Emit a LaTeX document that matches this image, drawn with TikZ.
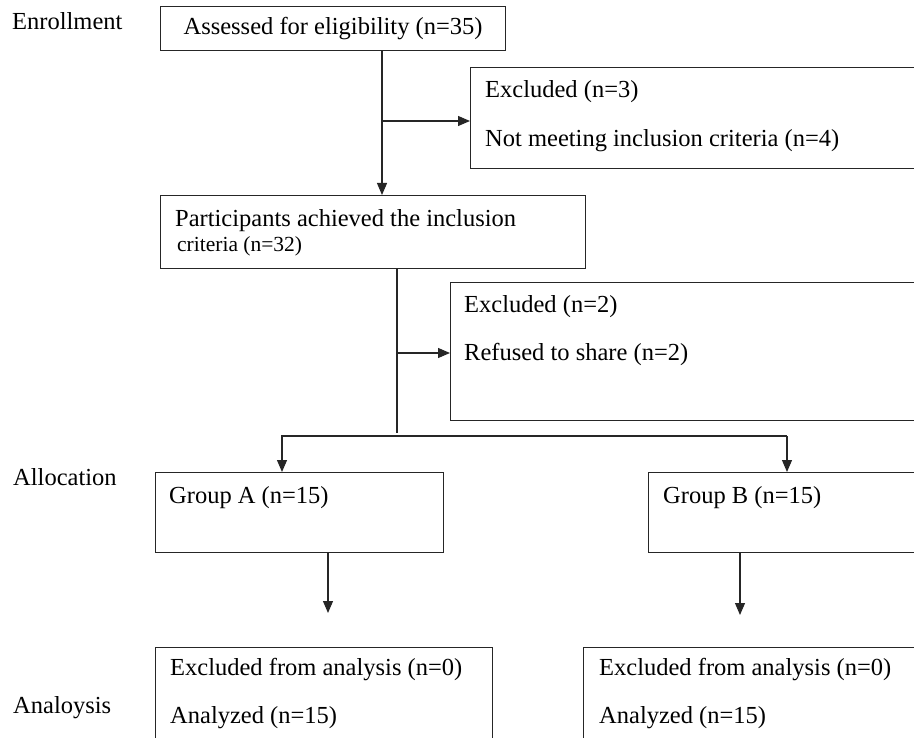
\documentclass[tikz,border=0pt]{standalone}
\usepackage{fontspec}
\setmainfont{Liberation Serif}
\usetikzlibrary{positioning,arrows.meta}

\begin{document}
\begin{tikzpicture}[
		x=1pt, y=-1pt,
		box/.style={rectangle, draw=black!85, line width=1.1pt, anchor=north west, inner sep=0pt},
		txt/.style={anchor=base west, inner sep=0pt, text=black, font=\fontsize{24.5}{29}\selectfont},
		small/.style={txt, font=\fontsize{21.5}{26}\selectfont},
		link/.style={draw=black!85, line width=1.1pt},
		flow/.style={link, -{Triangle[length=12pt,width=10pt]}}
]
\useasboundingbox (0,0) rectangle (914,738);
\clip (0,0) rectangle (914,738);

% stage labels
\node [txt] (Enroll) at (12,30) {Enrollment};
\node [txt] (Alloc) at (13,485) {Allocation};
\node [txt] (Anal) at (13,713) {Analoysis};

% boxes
\node [box, minimum width=345pt, minimum height=44pt, font=\fontsize{24.5}{29}\selectfont] (Assess) at (160,6) {Assessed for eligibility (n=35)};
\node [box, minimum width=600pt, minimum height=101pt] (Excl1) at (470,67) {};
\node [box, minimum width=425pt, minimum height=73pt] (Incl) at (160,195) {};
\node [box, minimum width=600pt, minimum height=138pt] (Excl2) at (450,282) {};
\node [box, minimum width=288pt, minimum height=80pt] (GrpA) at (155,472) {};
\node [box, minimum width=400pt, minimum height=80pt] (GrpB) at (648,472) {};
\node [box, minimum width=337pt, minimum height=150pt] (AnA) at (155,647) {};
\node [box, minimum width=400pt, minimum height=150pt] (AnB) at (583,647) {};

% box texts
\node [txt] (Excl1a) at (485,98) {Excluded (n=3)};
\node [txt] (Excl1b) at (485,147) {Not meeting inclusion criteria (n=4)};
\node [txt] (Incla) at (175,227) {Participants achieved the inclusion};
\node [small] (Inclb) at (177,252) {criteria (n=32)};
\node [txt] (Excl2a) at (464,313) {Excluded (n=2)};
\node [txt] (Excl2b) at (464,360) {Refused to share (n=2)};
\node [txt] (GrpAt) at (169,503) {Group A (n=15)};
\node [txt] (GrpBt) at (663,503) {Group B (n=15)};
\node [txt] (AnAa) at (170,675) {Excluded from analysis (n=0)};
\node [txt] (AnAb) at (170,723) {Analyzed (n=15)};
\node [txt] (AnBa) at (599,675) {Excluded from analysis (n=0)};
\node [txt] (AnBb) at (599,723) {Analyzed (n=15)};

% connectors
\coordinate (J1) at (382,121);
\draw [flow] (J1 |- Assess.south) -- (J1 |- Incl.north);
\draw [flow] (J1) -- (J1 -| Excl1.west);

\coordinate (J2) at (397,353);
\coordinate (J3) at (397,433);
\draw [link] (J2 |- Incl.south) -- (J3);
\draw [flow] (J2) -- (J2 -| Excl2.west);

\coordinate (SplitA) at (282,436);
\coordinate (SplitB) at (787,436);
\draw [flow] (SplitB) -- (SplitA) -- (SplitA |- GrpA.north);
\draw [flow] (SplitB) -- (SplitB |- GrpB.north);

\coordinate (EndA) at (328,613);
\coordinate (EndB) at (740,615);
\draw [flow] (EndA |- GrpA.south) -- (EndA);
\draw [flow] (EndB |- GrpB.south) -- (EndB);

\end{tikzpicture}
\end{document}
